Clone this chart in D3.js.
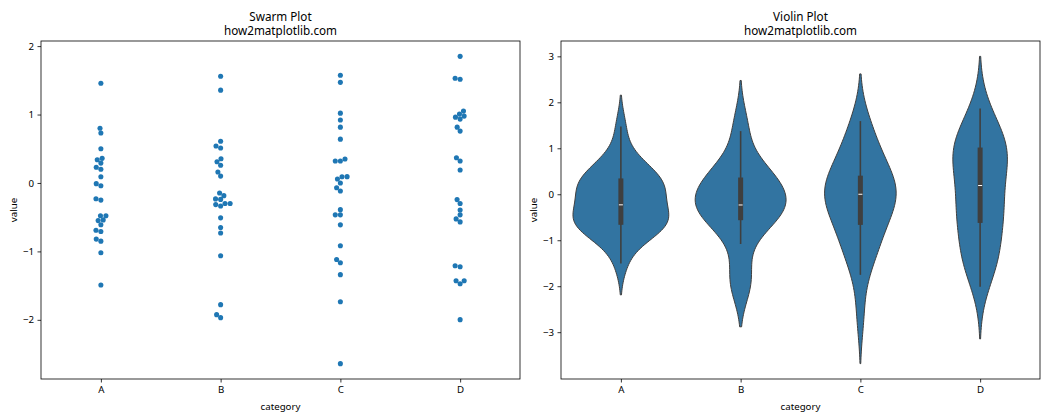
<!DOCTYPE html>
<html><head><meta charset="utf-8">
<script src="https://cdn.jsdelivr.net/npm/d3@7"></script>
<style>
body{margin:0;background:#fff}
svg{display:block}
text{font-family:"Noto Sans",sans-serif;fill:#000}
</style>
</head><body>
<svg id="c" width="1050" height="420"></svg>
<script>
const categories = ["A","B","C","D"];
const valuesA = [1.458,0.80,0.73,0.50,0.36,0.34,0.29,0.23,0.20,0.09,-0.01,-0.04,-0.23,-0.25,-0.48,-0.48,-0.54,-0.55,-0.61,-0.69,-0.71,-0.82,-0.85,-1.02,-1.49];
const valuesB = [1.56,1.356,0.61,0.54,0.51,0.354,0.31,0.26,0.16,0.10,-0.146,-0.185,-0.233,-0.24,-0.30,-0.30,-0.316,-0.336,-0.51,-0.65,-0.73,-1.064,-1.778,-1.924,-1.968];
const valuesC = [1.574,1.47,1.02,0.92,0.816,0.64,0.35,0.32,0.32,0.092,0.09,0.058,0.0,-0.069,-0.117,-0.39,-0.466,-0.466,-0.612,-0.918,-1.118,-1.166,-1.34,-1.735,-2.64];
const valuesD = [1.85,1.53,1.516,1.05,1.006,0.977,0.962,0.933,0.816,0.758,0.369,0.32,0.19,-0.243,-0.30,-0.394,-0.466,-0.525,-0.569,-1.21,-1.224,-1.429,-1.429,-1.472,-1.997];
const seriesValues = [valuesA, valuesB, valuesC, valuesD];
const swarmTicks = [-2,-1,0,1,2];
const violinTicks = [-3,-2,-1,0,1,2,3];
const titles = [["Swarm Plot","how2matplotlib.com"],["Violin Plot","how2matplotlib.com"]];
const xLabel = "category", yLabel = "value";

const svg = d3.select("#c");
const panels = [{x0:41,x1:520},{x0:561,x1:1040}];
const topY = 41, bottomY = 379;
const fmt = d => d < 0 ? "\u2212" + Math.abs(d) : String(d);
const lineColor = "#3f3f3f";

function padDomain(lo, hi){ const r = hi - lo; return [lo - 0.05*r, hi + 0.05*r]; }

function drawFrame(p, y, ticks, title){
  const g = svg.append("g");
  const x = d3.scaleLinear().domain([-0.5, 3.5]).range([p.x0, p.x1]);
  const ya = g.append("g").attr("transform", `translate(${p.x0},0)`)
    .call(d3.axisLeft(y).tickValues(ticks).tickSize(3.5).tickPadding(3.5).tickFormat(fmt));
  ya.select(".domain").remove();
  ya.selectAll("line").attr("stroke","#000").attr("stroke-width",0.8);
  ya.selectAll("text").style("font-size","9.7px").style("font-family","'Noto Sans',sans-serif");
  const xa = g.append("g").attr("transform", `translate(0,${bottomY})`)
    .call(d3.axisBottom(x).tickValues([0,1,2,3]).tickSize(3.5).tickPadding(3.5).tickFormat(i => categories[i]));
  xa.select(".domain").remove();
  xa.selectAll("line").attr("stroke","#000").attr("stroke-width",0.8);
  xa.selectAll("text").style("font-size","9.7px").style("font-family","'Noto Sans',sans-serif");
  const cx = (p.x0 + p.x1)/2;
  const t = g.append("text").attr("text-anchor","middle").style("font-size","11.7px");
  t.append("tspan").attr("x", cx).attr("y", 20.5).text(title[0]);
  t.append("tspan").attr("x", cx).attr("y", 34.5).text(title[1]);
  g.append("text").attr("x", cx).attr("y", 410).attr("text-anchor","middle").style("font-size","9.7px").text(xLabel);
  g.append("text").attr("transform", `translate(${p.x0-24},${(topY+bottomY)/2}) rotate(-90)`).attr("text-anchor","middle").style("font-size","9.7px").text(yLabel);
  return {g, x};
}
function drawSpines(g, p){
  g.append("rect").attr("x",p.x0).attr("y",topY).attr("width",p.x1-p.x0).attr("height",bottomY-topY)
    .attr("fill","none").attr("stroke","#000").attr("stroke-width",0.8);
}

// ---- Swarm ----
const allVals = seriesValues.flat();
const ySw = d3.scaleLinear().domain(padDomain(d3.min(allVals), d3.max(allVals))).range([bottomY, topY]);
const f1 = drawFrame(panels[0], ySw, swarmTicks, titles[0]);
const R = 2.43;
function beeswarm(vals, cx){
  const pts = vals.map(v => ({v, x: cx, up: -ySw(v), r: R})).sort((a,b) => a.up - b.up);
  const swarm = [pts[0]];
  for (let i = 1; i < pts.length; i++){
    const p = pts[i];
    const nb = [];
    for (let j = swarm.length-1; j >= 0; j--){
      if (p.up - swarm[j].up < p.r + swarm[j].r) nb.unshift(swarm[j]); else break;
    }
    const cands = [p.x]; let left = true;
    for (const q of nb){
      const dy = p.up - q.up;
      const dx = Math.sqrt(Math.max((p.r+q.r)**2 - dy*dy, 0)) * 1.05;
      if (left) cands.push(q.x - dx, q.x + dx); else cands.push(q.x + dx, q.x - dx);
      left = !left;
    }
    const order = cands.map((c,k) => ({c, k, o: Math.abs(c - cx)})).sort((a,b) => a.o - b.o || a.k - b.k);
    let chosen = order[0].c;
    if (nb.length){
      for (const o of order){
        if (nb.every(q => (q.x - o.c)**2 + (q.up - p.up)**2 >= (q.r + p.r)**2)){ chosen = o.c; break; }
      }
    }
    p.x = chosen; swarm.push(p);
  }
  return swarm;
}
seriesValues.forEach((vals, i) => {
  const pts = beeswarm(vals, f1.x(i));
  f1.g.append("g").selectAll("circle").data(pts).join("circle")
    .attr("cx", d => d.x).attr("cy", d => ySw(d.v)).attr("r", 2.55).attr("fill", "#1f77b4");
});
drawSpines(f1.g, panels[0]);

// ---- Violin ----
function kde(vals){
  const n = vals.length;
  const bw = Math.pow(n, -0.2) * d3.deviation(vals);
  const lo = d3.min(vals) - 2*bw, hi = d3.max(vals) + 2*bw;
  const grid = d3.range(100).map(i => lo + (hi - lo) * i / 99);
  const dens = grid.map(g => d3.mean(vals, v => Math.exp(-0.5*((g - v)/bw)**2)) / (bw*Math.sqrt(2*Math.PI)));
  return grid.map((g, i) => ({g, d: dens[i]}));
}
const kdes = seriesValues.map(kde);
const vLo = d3.min(kdes, k => k[0].g), vHi = d3.max(kdes, k => k[k.length-1].g);
const yVi = d3.scaleLinear().domain(padDomain(vLo, vHi)).range([bottomY, topY]);
const f2 = drawFrame(panels[1], yVi, violinTicks, titles[1]);
const maxD = d3.max(kdes, k => d3.max(k, e => e.d));
const unit = f2.x(1) - f2.x(0);
kdes.forEach((k, i) => {
  const cx = f2.x(i);
  const w = d => d / maxD * 0.4 * unit;
  const area = d3.area().x0(e => cx - w(e.d)).x1(e => cx + w(e.d)).y(e => yVi(e.g));
  f2.g.append("path").attr("d", area(k)).attr("fill", "#3274a1").attr("stroke", lineColor).attr("stroke-width", 1);
  const vals = seriesValues[i].slice().sort(d3.ascending);
  const q1 = d3.quantile(vals, 0.25), q2 = d3.quantile(vals, 0.5), q3 = d3.quantile(vals, 0.75);
  const iqr = q3 - q1;
  const wLo = d3.min(vals.filter(v => v >= q1 - 1.5*iqr));
  const wHi = d3.max(vals.filter(v => v <= q3 + 1.5*iqr));
  f2.g.append("line").attr("x1", cx).attr("x2", cx).attr("y1", yVi(wLo)).attr("y2", yVi(wHi))
    .attr("stroke", lineColor).attr("stroke-width", 1.6).attr("stroke-linecap", "square");
  f2.g.append("line").attr("x1", cx).attr("x2", cx).attr("y1", yVi(q1)).attr("y2", yVi(q3))
    .attr("stroke", lineColor).attr("stroke-width", 5).attr("stroke-linecap", "square");
  f2.g.append("line").attr("x1", cx - 2).attr("x2", cx + 2).attr("y1", yVi(q2)).attr("y2", yVi(q2))
    .attr("stroke", "#fff").attr("stroke-width", 1);
});
drawSpines(f2.g, panels[1]);
</script>
</body></html>
